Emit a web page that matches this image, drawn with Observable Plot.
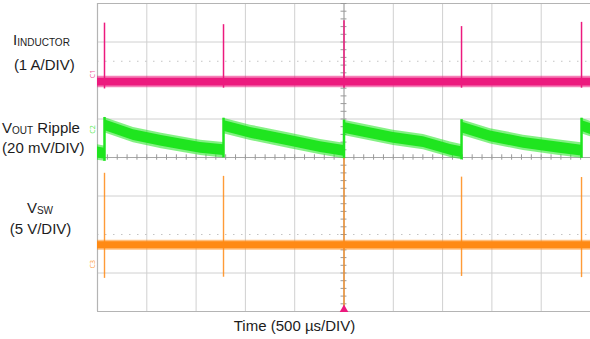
<!DOCTYPE html>
<html>
<head>
<meta charset="utf-8">
<script src="https://cdn.jsdelivr.net/npm/d3@7"></script>
<script src="https://cdn.jsdelivr.net/npm/@observablehq/plot@0.6"></script>
<style>
html,body{margin:0;padding:0;background:#fff;}
#wrap{position:relative;width:590px;height:339px;font-family:"Liberation Sans",Arial,sans-serif;color:#1c1c1c;overflow:hidden;}
#wrap svg{position:absolute;left:0;top:0;}
.lbl{position:absolute;width:140px;font-size:15px;line-height:15px;white-space:nowrap;text-align:center;}
.lbl .s{font-size:10px;position:relative;top:1px;}
</style>
</head>
<body>
<div id="wrap"></div>
<script>
// ---- grid (time in ms, 10 div x 0.5 ms; vertical in divisions, 8 div) ----
const timeGridMs = [0, 0.5, 1, 1.5, 2, 2.5, 3, 3.5, 4, 4.5, 5];
const levelGridDiv = [0, 1, 2, 3, 4, 5, 6, 7, 8];
const dottedLevelsDiv = [6.5, 2];

// ---- switching events ----
const switchTimesMs = [0.071, 1.278, 2.5, 3.692, 4.909];

// ---- I_INDUCTOR (1 A/DIV), in divisions ----
const inductorTimesMs = [0, 5];
const inductorLevel = [5.96, 5.96];
const inductorSpikeTop = [7.49, 7.45, 7.55, 7.40, 7.51];
const inductorSpikeBottom = [5.78, 5.80, 5.80, 5.80, 5.80];

// ---- VOUT ripple (20 mV/DIV), band centre in divisions ----
const voutTimesMs = [0, 0.071, 0.071, 0.365, 0.649, 1.045, 1.278,
  1.278, 1.552, 1.957, 2.262, 2.5,
  2.5, 3.002, 3.306, 3.580, 3.692,
  3.692, 3.986, 4.320, 4.665, 4.909,
  4.909, 5];
const voutLevel = [4.13, 4.10, 4.84, 4.58, 4.43, 4.25, 4.19,
  4.82, 4.64, 4.43, 4.27, 4.17,
  4.77, 4.51, 4.40, 4.20, 4.14,
  4.78, 4.55, 4.38, 4.26, 4.18,
  4.82, 4.74];

// ---- V_SW (5 V/DIV), in divisions ----
const swTimesMs = [0, 5];
const swLevel = [1.72, 1.72];
const swSpikeTop = [3.59, 3.51, 3.98, 3.49, 3.48];
const swSpikeBottom = [0.86, 0.89, 0.05, 0.91, 0.88];

// ---- channel markers ----
const channelNames = ["C1", "C2", "C3"];
const channelLevels = [6.06, 4.62, 1.12];

// ---- colours ----
const pink = "#ec1a7e", green = "#1fe51f", orange = "#ff8a14";
const channelColors = [pink, green, orange];

// tables built from the arrays
const inductor = inductorTimesMs.map((t, i) => ({t, v: inductorLevel[i]}));
const vout = voutTimesMs.map((t, i) => ({t, v: voutLevel[i]}));
const voutJumps = vout.flatMap((d, i) => i > 0 && d.t === vout[i - 1].t
  ? [{t: d.t, lo: Math.min(d.v, vout[i - 1].v), hi: Math.max(d.v, vout[i - 1].v)}] : []);
const sw = swTimesMs.map((t, i) => ({t, v: swLevel[i]}));
const iSpikes = switchTimesMs.map((t, i) => ({t, lo: inductorSpikeBottom[i], hi: inductorSpikeTop[i]}));
const swSpikes = switchTimesMs.map((t, i) => ({t, lo: swSpikeBottom[i], hi: swSpikeTop[i]}));
const minorX = d3.range(0, 5.0001, 0.1);
const minorY = d3.range(0, 8.0001, 0.2);

const band = (data, color, outer, inner) => [
  Plot.areaY(data, {x: "t", y1: d => d.v - outer, y2: d => d.v + outer, fill: color, fillOpacity: 0.55}),
  Plot.areaY(data, {x: "t", y1: d => d.v - inner, y2: d => d.v + inner, fill: color})
];

const plot = Plot.plot({
  width: 590,
  height: 339,
  marginLeft: 97,
  marginRight: 0,
  marginTop: 3,
  marginBottom: 28,
  x: {domain: [0, 5], axis: null},
  y: {domain: [0, 8], axis: null},
  style: {background: "transparent", overflow: "visible"},
  marks: [
    Plot.ruleX(timeGridMs, {stroke: "#d0d0d0", strokeWidth: 1}),
    Plot.ruleY(levelGridDiv.filter(v => !dottedLevelsDiv.includes(v)), {stroke: "#d0d0d0", strokeWidth: 1}),
    Plot.ruleY(dottedLevelsDiv, {stroke: "#c4c4c4", strokeWidth: 1, strokeDasharray: "1.5,6.5"}),
    Plot.ruleX([0], {stroke: "#b4b4b4", strokeWidth: 1.2}),
    Plot.ruleY([0, 8], {stroke: "#b4b4b4", strokeWidth: 1.2}),
    Plot.ruleX([2.5], {stroke: "#a6a6a6", strokeWidth: 1}),
    Plot.ruleY([4], {stroke: "#a6a6a6", strokeWidth: 1}),
    Plot.ruleX(minorX, {y1: 4 - 0.07, y2: 4 + 0.07, stroke: "#9a9a9a", strokeWidth: 1}),
    Plot.ruleY(minorY, {x1: 2.5 - 0.03, x2: 2.5 + 0.03, stroke: "#9a9a9a", strokeWidth: 1}),
    // traces
    ...band(vout, green, 0.20, 0.14),
    Plot.ruleX(voutJumps, {x: "t", y1: d => d.lo - 0.2, y2: d => d.hi + 0.2, stroke: green, strokeWidth: 2.5}),
    Plot.ruleX(iSpikes, {x: "t", y1: "lo", y2: "hi", stroke: pink, strokeWidth: 1.5}),
    ...band(inductor, pink, 0.15, 0.10),
    Plot.ruleX(swSpikes, {x: "t", y1: "lo", y2: "hi", stroke: orange, strokeWidth: 1.4, strokeOpacity: 0.85}),
    ...band(sw, orange, 0.13, 0.09),
    Plot.text(channelNames, {text: d => d, y: (d, i) => channelLevels[i], frameAnchor: "left", dx: -5,
      rotate: -90, fontSize: 7, fill: (d, i) => channelColors[i], fillOpacity: 0.8}),
    Plot.dot([2.5], {x: d => d, y: 0, symbol: "triangle", r: 3.2, fill: pink, dy: -2})
  ]
});

const wrap = document.getElementById("wrap");
wrap.appendChild(plot);

// text labels (centre x, baseline y)
const labels = [
  ['I<span class="s">INDUCTOR</span>', 41.5, 45],
  ['(1 A/DIV)', 44.3, 69.5],
  ['V<span class="s">OUT</span> Ripple', 41, 132.5],
  ['(20 mV/DIV)', 43.3, 152.5],
  ['V<span class="s">SW</span>', 40, 212.5],
  ['(5 V/DIV)', 40.5, 233.5],
  ['Time (500 µs/DIV)', 294.5, 331]
];
for (const [html, cx, base] of labels) {
  const d = document.createElement("div");
  d.className = "lbl";
  d.innerHTML = html;
  d.style.left = (cx - 70) + "px";
  d.style.top = (base - 12.7) + "px";
  wrap.appendChild(d);
}
</script>
</body>
</html>
